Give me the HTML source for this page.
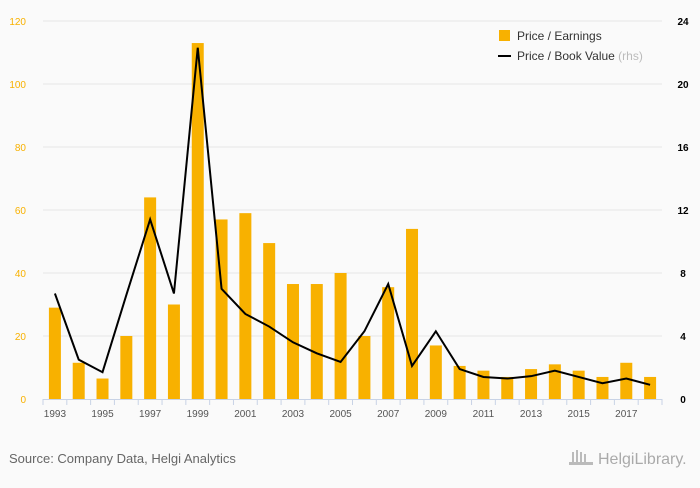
<!DOCTYPE html>
<html><head><meta charset="utf-8"><style>
body{margin:0;background:#fafafa;font-family:"Liberation Sans",sans-serif}
svg text{font-family:"Liberation Sans",sans-serif}
</style></head><body>
<svg width="700" height="483" xmlns="http://www.w3.org/2000/svg">
<rect width="700" height="483" fill="#fafafa"/>
<g id="grid"></g><g id="bars"></g><g id="line"></g><g id="axes"></g>
<g>
<rect x="499" y="30" width="11" height="11" fill="#f8b100"/>
<text x="517" y="40" font-size="12" fill="#333">Price / Earnings</text>
<line x1="498" y1="56" x2="511" y2="56" stroke="#000" stroke-width="2"/>
<text x="517" y="60" font-size="12" fill="#333">Price / Book Value <tspan fill="#bbb">(rhs)</tspan></text>
</g>
<text x="9" y="463" font-size="13" fill="#666">Source: Company Data, Helgi Analytics</text>
<text x="598" y="464" font-size="16" fill="#aaa" font-family="Liberation Serif">HelgiLibrary.</text>
<g fill="#bbb"><rect x="572" y="452" width="2" height="12"/><rect x="576" y="450" width="2" height="14"/><rect x="580" y="452" width="2" height="12"/><rect x="584" y="454" width="2" height="10"/><rect x="569" y="462" width="24" height="3"/></g>
<script>
const years=[1993,1994,1995,1996,1997,1998,1999,2000,2001,2002,2003,2004,2005,2006,2007,2008,2009,2010,2011,2012,2013,2014,2015,2016,2017,2018];
const pe=[29,11.5,6.5,20,64,30,113,57,59,49.5,36.5,36.5,40,20,35.5,54,17,10.5,9,7,9.5,11,9,7,11.5,7];
const pbv=[6.7,2.5,1.7,6.6,11.4,6.7,22.3,7.0,5.4,4.6,3.6,2.9,2.35,4.3,7.3,2.1,4.3,1.9,1.4,1.3,1.45,1.8,1.4,1.0,1.3,0.9];
const leftTicks=[0,20,40,60,80,100,120];
const rightTicks=[0,4,8,12,16,20,24];
const NS="http://www.w3.org/2000/svg";
const x0=43,x1=662,yb=399,yt=21;
const bw=(x1-x0)/years.length;
const xc=i=>x0+bw*(i+0.5);
const yL=v=>yb-(v/120)*(yb-yt);
const yR=v=>yb-(v/24)*(yb-yt);
function mk(tag,attrs,parent){const e=document.createElementNS(NS,tag);for(const k in attrs)e.setAttribute(k,attrs[k]);document.getElementById(parent).appendChild(e);return e;}
leftTicks.forEach((t,i)=>{
 if(t>0){const g=mk('line',{x1:x0,x2:x1,y1:yL(t),y2:yL(t),stroke:'#e6e6e6'},'grid');
 
 }
 const l=mk('text',{x:x0-17,y:yL(t)+4,'font-size':10,fill:'#f8b100','text-anchor':'end'},'axes');l.textContent=t;
 
 
});
rightTicks.forEach(t=>{
 const l=mk('text',{x:683,y:yR(t)+4,'font-size':10,fill:'#000','text-anchor':'middle','font-weight':'bold'},'axes');l.textContent=t;
 
 
});
years.forEach((y,i)=>{
 const b=mk('rect',{x:xc(i)-6,y:yL(pe[i]),width:12,height:yb-yL(pe[i]),fill:'#f8b100'},'bars');
 
 
 const tk=mk('line',{x1:x0+bw*i,x2:x0+bw*i,y1:yb,y2:yb+6,stroke:'#c8d3e6'},'axes');
 
 
 if(i%2===0){const l=mk('text',{x:xc(i),y:yb+18,'font-size':10,fill:'#555','text-anchor':'middle'},'axes');l.textContent=y;
 
 }
});
const ax=mk('line',{x1:x0,x2:x1,y1:yb+0.5,y2:yb+0.5,stroke:'#c8d3e6'},'axes');


const tkE=mk('line',{x1:x1,x2:x1,y1:yb,y2:yb+6,stroke:'#c8d3e6'},'axes');


const pl=mk('polyline',{points:pbv.map((v,i)=>xc(i)+','+yR(v)).join(' '),fill:'none',stroke:'#000','stroke-width':2},'line');


</script>
</svg>
</body></html>
